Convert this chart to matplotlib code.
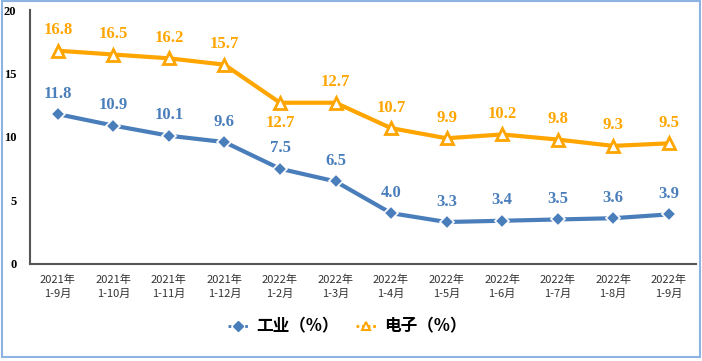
import matplotlib.pyplot as plt
from matplotlib.lines import Line2D
from matplotlib.patches import Rectangle

plt.rcParams['font.family'] = ['Noto Sans CJK SC', 'DejaVu Sans']

# 数据
categories = ['2021年\n1-9月', '2021年\n1-10月', '2021年\n1-11月', '2021年\n1-12月',
              '2022年\n1-2月', '2022年\n1-3月', '2022年\n1-4月', '2022年\n1-5月',
              '2022年\n1-6月', '2022年\n1-7月', '2022年\n1-8月', '2022年\n1-9月']
industry = [11.8, 10.9, 10.1, 9.6, 7.5, 6.5, 4.0, 3.3, 3.4, 3.5, 3.6, 3.9]
electronics = [16.8, 16.5, 16.2, 15.7, 12.7, 12.7, 10.7, 9.9, 10.2, 9.8, 9.3, 9.5]

blue = '#4A7EBB'
orange = '#FFA500'
x = list(range(len(categories)))

fig = plt.figure(figsize=(7.02, 3.61), dpi=100)
ax = fig.add_axes([0.043, 0.269, 0.949, 0.703])

ax.plot(x, industry, color=blue, lw=3, marker='D', ms=7,
        markerfacecolor=blue, markeredgecolor='white', markeredgewidth=1.2, zorder=3)
ax.plot(x, electronics, color=orange, lw=3, marker='^', ms=9,
        markerfacecolor='white', markeredgecolor=orange, markeredgewidth=2, zorder=3)

numfont = dict(family='Liberation Serif', fontweight='bold', fontsize=12)
for i, v in enumerate(industry):
    ax.annotate(f'{v:.1f}', (i, v), xytext=(0, 9), textcoords='offset points',
                ha='center', va='bottom', color=blue, **numfont)
for i, v in enumerate(electronics):
    off = -9 if i == 4 else 9
    ax.annotate(f'{v:.1f}', (i, v), xytext=(0, off), textcoords='offset points',
                ha='center', va='top' if off < 0 else 'bottom', color=orange, **numfont)

ax.set_xlim(-0.5, len(categories) - 0.5)
ax.set_ylim(0, 20)
ax.set_yticks([0, 5, 10, 15, 20])
ax.set_xticks(x)
ax.set_xticklabels(categories, fontsize=8, color='#333333', linespacing=1.4)
for lab in ax.get_yticklabels():
    lab.set_fontfamily('Liberation Serif')
    lab.set_fontweight('bold')
    lab.set_fontsize(9)
ax.tick_params(axis='both', length=0, pad=8)
ax.tick_params(axis='y', pad=10)
for s in ['top', 'right']:
    ax.spines[s].set_visible(False)
for s in ['left', 'bottom']:
    ax.spines[s].set_color('#555555')
    ax.spines[s].set_linewidth(1.5)

handles = [
    Line2D([], [], color=blue, lw=2, ls=(0, (1, 1)), marker='D', ms=5,
           markerfacecolor=blue, markeredgecolor=blue),
    Line2D([], [], color=orange, lw=2, ls=(0, (1, 1)), marker='^', ms=6,
           markerfacecolor='white', markeredgecolor=orange, markeredgewidth=1.5),
]
fig.legend(handles, ['工业（%）', '电子（%）'], loc='center', bbox_to_anchor=(0.495, 0.095),
           ncol=2, frameon=False, prop=dict(family='Noto Sans CJK SC', weight='bold', size=12),
           handlelength=1.2, columnspacing=1.0, handletextpad=0.5)

fig.patches.append(Rectangle((0.003, 0.011), 0.994, 0.987, transform=fig.transFigure,
                             fill=False, edgecolor='#8DB3E2', lw=1.5))

fig.savefig('out.png', dpi=100)
